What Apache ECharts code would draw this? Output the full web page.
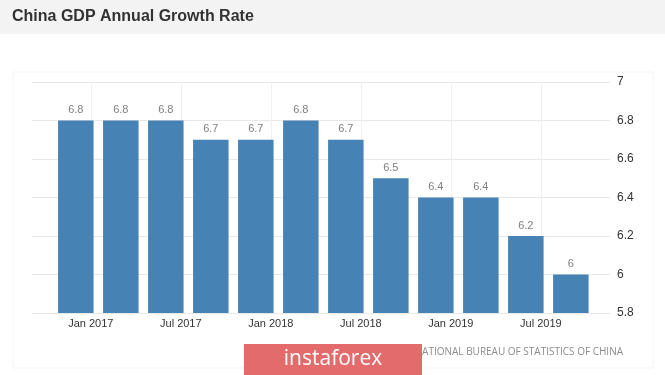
<!DOCTYPE html>
<html>
<head>
<meta charset="utf-8">
<script src="https://cdn.jsdelivr.net/npm/echarts@6/dist/echarts.min.js"></script>
<style>html,body{margin:0;padding:0;background:#fff;}#c{width:665px;height:375px;}</style>
</head>
<body>
<div id="c"></div>
<script>
// Quarter-end periods (year-month) and GDP growth values
const periods = ['2016-12','2017-03','2017-06','2017-09','2017-12','2018-03','2018-06','2018-09','2018-12','2019-03','2019-06','2019-09'];
const growth = [6.8, 6.8, 6.8, 6.7, 6.7, 6.8, 6.7, 6.5, 6.4, 6.4, 6.2, 6.0];
const tickPeriods = ['2017-01','2017-07','2018-01','2018-07','2019-01','2019-07'];
const tickLabels = ['Jan 2017','Jul 2017','Jan 2018','Jul 2018','Jan 2019','Jul 2019'];
const yTicks = [5.8, 6, 6.2, 6.4, 6.6, 6.8, 7];

function monthIdx(p){ const [y,m] = p.split('-').map(Number); return (y-2017)*12 + (m-1); }
const tickVals = tickPeriods.map(monthIdx);
const labelMap = {}; tickVals.forEach((v,i)=>labelMap[v]=tickLabels[i]);

const chart = echarts.init(document.getElementById('c'));
chart.setOption({
  animation:false,
  backgroundColor:'#ffffff',
  grid:{left:32, right:55, top:82, bottom:62},
  xAxis:{
    type:'value', min:-3.92, max:34.61,
    axisLine:{show:false}, axisTick:{show:false}, splitLine:{show:false},
    axisLabel:{customValues:tickVals, formatter:v=>labelMap[v]||'', color:'#333', fontSize:11, fontFamily:'Liberation Sans, Arial, sans-serif', margin:5}
  },
  yAxis:{
    type:'value', position:'right', min:yTicks[0], max:yTicks[yTicks.length-1], interval:0.2,
    axisLine:{show:false}, axisTick:{show:false},
    splitLine:{lineStyle:{color:'#e8e8e8', width:1}},
    axisLabel:{color:'#333', fontSize:12, fontFamily:'Liberation Sans, Arial, sans-serif', margin:7}
  },
  series:[{
    type:'line', data:[], z:1, silent:true,
    markLine:{z:0, silent:true, symbol:'none', label:{show:false}, lineStyle:{color:'#f0f0f0', type:'solid', width:1},
      data:tickVals.map(v=>({xAxis:v}))}
  },{
    type:'bar', barWidth:35.5, z:3,
    data:periods.map((p,i)=>[monthIdx(p), growth[i]]),
    itemStyle:{color:'#4682b4'},
    label:{show:true, position:'top', distance:5, color:'#808080', fontSize:11, fontFamily:'Liberation Sans, Arial, sans-serif', formatter:p=>String(p.value[1])}
  }],
  graphic:[
    {type:'rect', shape:{x:0,y:0,width:665,height:34}, style:{fill:'#f3f3f3'}, z:-10},
    {type:'rect', shape:{x:13,y:72,width:640,height:296}, style:{fill:'none', stroke:'#f3f3f3', lineWidth:1}, z:-10},
    {type:'text', x:12, y:17, style:{text:'China GDP Annual Growth Rate', fill:'#333', font:'bold 16px "Liberation Sans", Arial, sans-serif', textVerticalAlign:'middle'}},
    {type:'text', x:623, y:352, style:{text:'TRADINGECONOMICS.COM | NATIONAL BUREAU OF STATISTICS OF CHINA', fill:'#8c8c8c', font:'10px "Open Sans", sans-serif', textAlign:'right', textVerticalAlign:'middle'}},
    {type:'rect', shape:{x:244,y:344,width:178,height:31}, style:{fill:'#e46b6b'}, z:10},
    {type:'text', x:333, y:359, style:{text:'instaforex', fill:'#fff', font:'21px "Open Sans", sans-serif', textAlign:'center', textVerticalAlign:'middle'}, z:11}
  ]
});
</script>
</body>
</html>
